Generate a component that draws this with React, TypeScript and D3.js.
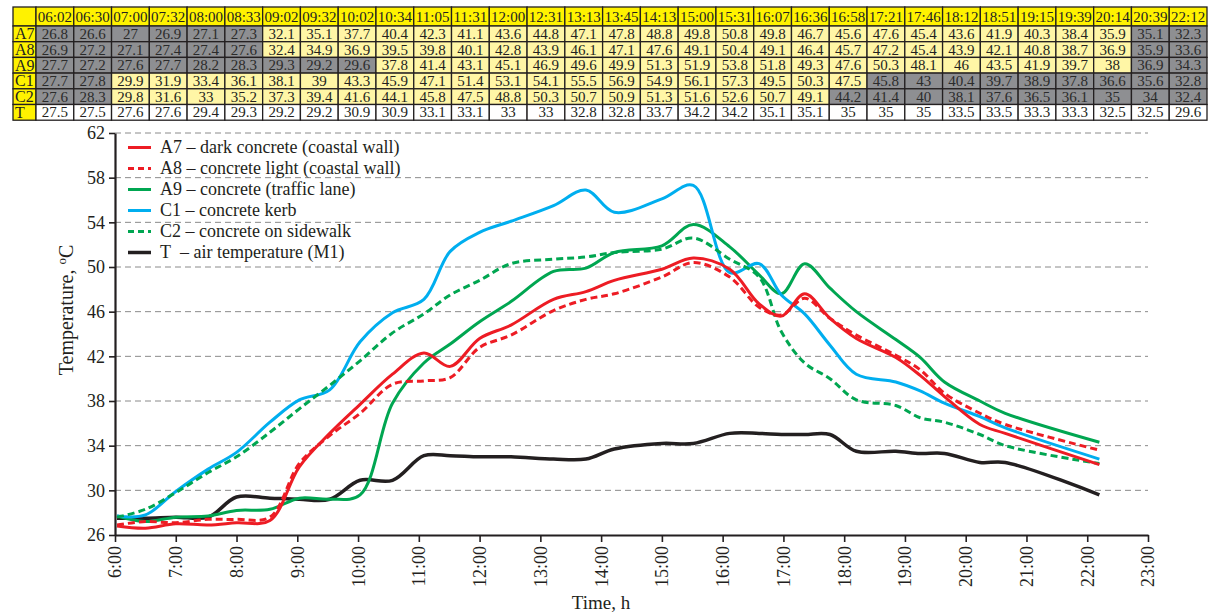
import React, { useEffect, useRef } from 'react';
import * as d3 from 'd3';

// measurement times (table header)
const times = ['06:02', '06:30', '07:00', '07:32', '08:00', '08:33', '09:02', '09:32', '10:02', '10:34', '11:05', '11:31', '12:00', '12:31', '13:13', '13:45', '14:13', '15:00', '15:31', '16:07', '16:36', '16:58', '17:21', '17:46', '18:12', '18:51', '19:15', '19:39', '20:14', '20:39', '22:12'];

const a7 = [26.8, 26.6, 27, 26.9, 27.1, 27.3, 32.1, 35.1, 37.7, 40.4, 42.3, 41.1, 43.6, 44.8, 47.1, 47.8, 48.8, 49.8, 50.8, 49.8, 46.7, 45.6, 47.6, 45.4, 43.6, 41.9, 40.3, 38.4, 35.9, 35.1, 32.3];
const a8 = [26.9, 27.2, 27.1, 27.4, 27.4, 27.6, 32.4, 34.9, 36.9, 39.5, 39.8, 40.1, 42.8, 43.9, 46.1, 47.1, 47.6, 49.1, 50.4, 49.1, 46.4, 45.7, 47.2, 45.4, 43.9, 42.1, 40.8, 38.7, 36.9, 35.9, 33.6];
const a9 = [27.7, 27.2, 27.6, 27.7, 28.2, 28.3, 29.3, 29.2, 29.6, 37.8, 41.4, 43.1, 45.1, 46.9, 49.6, 49.9, 51.3, 51.9, 53.8, 51.8, 49.3, 47.6, 50.3, 48.1, 46, 43.5, 41.9, 39.7, 38, 36.9, 34.3];
const c1 = [27.7, 27.8, 29.9, 31.9, 33.4, 36.1, 38.1, 39, 43.3, 45.9, 47.1, 51.4, 53.1, 54.1, 55.5, 56.9, 54.9, 56.1, 57.3, 49.5, 50.3, 47.5, 45.8, 43, 40.4, 39.7, 38.9, 37.8, 36.6, 35.6, 32.8];
const c2 = [27.6, 28.3, 29.8, 31.6, 33, 35.2, 37.3, 39.4, 41.6, 44.1, 45.8, 47.5, 48.8, 50.3, 50.7, 50.9, 51.3, 51.6, 52.6, 50.7, 49.1, 44.2, 41.4, 40, 38.1, 37.6, 36.5, 36.1, 35, 34, 32.4];
const tAir = [27.5, 27.5, 27.6, 27.6, 29.4, 29.3, 29.2, 29.2, 30.9, 30.9, 33.1, 33.1, 33, 33, 32.8, 32.8, 33.7, 34.2, 34.2, 35.1, 35.1, 35, 35, 35, 33.5, 33.5, 33.3, 33.3, 32.5, 32.5, 29.6];

// columns shaded grey in the table
const a7Grey = [0, 1, 2, 3, 4, 5, 29, 30];
const a8Grey = [0, 1, 2, 3, 4, 5, 29, 30];
const a9Grey = [0, 1, 2, 3, 4, 5, 6, 7, 8, 29, 30];
const c1Grey = [0, 1, 22, 23, 24, 25, 26, 27, 28, 29, 30];
const c2Grey = [0, 1, 21, 22, 23, 24, 25, 26, 27, 28, 29, 30];

const rowNames = ['A7', 'A8', 'A9', 'C1', 'C2', 'T'];
const legendLabels = [
  'A7 \u2013 dark concrete (coastal wall)',
  'A8 \u2013 concrete light (coastal wall)',
  'A9 \u2013 concrete (traffic lane)',
  'C1 \u2013 concrete kerb',
  'C2 \u2013 concrete on sidewalk',
  'T\u00a0 \u2013 air temperature (M1)',
];

const yTicks = [26, 30, 34, 38, 42, 46, 50, 54, 58, 62];
const xTicks = d3.range(6, 24);

const FONT = '"Liberation Serif", "DejaVu Serif", serif';

const App = () => {
  const svgRef = useRef<SVGSVGElement>(null);

  useEffect(() => {
    document.body.style.margin = '0';
    const svg = d3.select(svgRef.current);
    svg.selectAll('*').remove();

    const W = 1216;
    const H = 615;
    svg.attr('width', W).attr('height', H).style('font-family', FONT);

    // ---------- table ----------
    const tableLeft = 13;
    const labelW = 23;
    const tableRight = 1207;
    const headTop = 7;
    const headH = 19;
    const rowH = 15.7;

    const colX = d3.scaleBand().domain(times).range([tableLeft + labelW, tableRight]);
    const rowY = d3.scaleBand().domain(rowNames).range([headTop + headH, headTop + headH + rowH * rowNames.length]);

    const tableRows = [
      { name: 'A7', values: a7, grey: a7Grey },
      { name: 'A8', values: a8, grey: a8Grey },
      { name: 'A9', values: a9, grey: a9Grey },
      { name: 'C1', values: c1, grey: c1Grey },
      { name: 'C2', values: c2, grey: c2Grey },
      { name: 'T', values: tAir, grey: [] as number[] },
    ];

    const table = svg.append('g');
    const yellow = '#fff200';
    const paleYellow = '#fff6a6';
    const grey = '#8e8f92';
    const border = '#231f20';

    // header row
    table.append('rect')
      .attr('x', tableLeft).attr('y', headTop).attr('width', labelW).attr('height', headH)
      .attr('fill', yellow).attr('stroke', border).attr('stroke-width', 1.3);
    times.forEach(t => {
      table.append('rect')
        .attr('x', colX(t)!).attr('y', headTop).attr('width', colX.bandwidth()).attr('height', headH)
        .attr('fill', yellow).attr('stroke', border).attr('stroke-width', 1.3);
      table.append('text')
        .attr('x', colX(t)! + colX.bandwidth() / 2).attr('y', headTop + headH / 2 + 5)
        .attr('text-anchor', 'middle').attr('font-size', 15).attr('fill', '#231f20')
        .text(t);
    });

    tableRows.forEach(r => {
      const y = rowY(r.name)!;
      table.append('rect')
        .attr('x', tableLeft).attr('y', y).attr('width', labelW).attr('height', rowY.bandwidth())
        .attr('fill', yellow).attr('stroke', border).attr('stroke-width', 1.3);
      table.append('text')
        .attr('x', tableLeft + 2).attr('y', y + rowY.bandwidth() / 2 + 5.5)
        .attr('font-size', 16).attr('fill', '#231f20')
        .text(r.name);
      r.values.forEach((v, i) => {
        const isGrey = r.grey.includes(i);
        const fill = r.name === 'T' ? '#ffffff' : isGrey ? grey : paleYellow;
        table.append('rect')
          .attr('x', colX(times[i])!).attr('y', y).attr('width', colX.bandwidth()).attr('height', rowY.bandwidth())
          .attr('fill', fill).attr('stroke', border).attr('stroke-width', 1.3);
        table.append('text')
          .attr('x', colX(times[i])! + colX.bandwidth() / 2).attr('y', y + rowY.bandwidth() / 2 + 5)
          .attr('text-anchor', 'middle').attr('font-size', 15)
          .attr('fill', isGrey ? '#2b2b2b' : '#231f20')
          .text(String(v));
      });
    });

    // ---------- chart ----------
    const left = 115;
    const right = 1148;
    const top = 133;
    const bottom = 535;

    const x = d3.scaleLinear().domain([6, 23]).range([left, right]);
    const y = d3.scaleLinear().domain([26, 62]).range([bottom, top]);
    const hours = times.map(t => {
      const [h, m] = t.split(':').map(Number);
      return h + m / 60;
    });

    // grid
    svg.append('g')
      .selectAll('line')
      .data(yTicks.filter(v => v > 26))
      .join('line')
      .attr('x1', left).attr('x2', right)
      .attr('y1', d => y(d)).attr('y2', d => y(d))
      .attr('stroke', '#8a8a8a').attr('stroke-width', 1).attr('stroke-dasharray', '6,4');

    const series = [
      { values: a7, color: '#ed1c24', dash: null, width: 3 },
      { values: a8, color: '#ed1c24', dash: '7,4', width: 3 },
      { values: a9, color: '#00a651', dash: null, width: 3 },
      { values: c1, color: '#00aeef', dash: null, width: 3 },
      { values: c2, color: '#00a651', dash: '7,4', width: 3 },
      { values: tAir, color: '#231f20', dash: null, width: 3.5 },
    ];

    const line = d3.line<number>()
      .x((_, i) => x(hours[i]))
      .y(d => y(d))
      .curve(d3.curveCatmullRom.alpha(0.5));

    const drawOrder = [5, 2, 3, 4, 1, 0];
    drawOrder.forEach(k => {
      const s = series[k];
      svg.append('path')
        .datum(s.values)
        .attr('d', line)
        .attr('fill', 'none')
        .attr('stroke', s.color)
        .attr('stroke-width', s.width)
        .attr('stroke-dasharray', s.dash)
        .attr('stroke-linejoin', 'round');
    });

    // axes
    const yAxis = svg.append('g').attr('transform', `translate(${left},0)`)
      .call(d3.axisLeft(y).tickValues(yTicks).tickSize(6).tickSizeOuter(0).tickPadding(4));
    const xAxis = svg.append('g').attr('transform', `translate(0,${bottom})`)
      .call(d3.axisBottom(x).tickValues(xTicks).tickSize(7).tickSizeOuter(0).tickFormat(d => `${d}:00`));

    [yAxis, xAxis].forEach(a => {
      a.select('.domain').attr('stroke', '#231f20').attr('stroke-width', 2.2);
      a.selectAll('.tick line').attr('stroke', '#231f20').attr('stroke-width', 1.6);
      a.selectAll('text').attr('font-family', FONT).attr('font-size', 18).attr('fill', '#231f20');
    });
    xAxis.selectAll('text')
      .attr('transform', 'rotate(-90)')
      .attr('text-anchor', 'end')
      .attr('x', -11)
      .attr('y', 0)
      .attr('dy', '0.33em');

    // axis titles
    svg.append('text')
      .attr('x', 601).attr('y', 609)
      .attr('text-anchor', 'middle').attr('font-size', 19).attr('fill', '#231f20')
      .text('Time, h');

    const yt = svg.append('text')
      .attr('transform', `translate(73,${310}) rotate(-90)`)
      .attr('text-anchor', 'middle').attr('font-size', 20).attr('fill', '#231f20');
    yt.append('tspan').text('Temperature, ');
    yt.append('tspan').attr('font-size', 13).attr('dy', -7).text('o');
    yt.append('tspan').attr('dy', 7).text('C');

    // legend
    const legend = svg.append('g');
    const legY = d3.scaleLinear().domain([0, 5]).range([147.5, 252.5]);
    series.forEach((s, i) => {
      legend.append('line')
        .attr('x1', 128).attr('x2', 151)
        .attr('y1', legY(i)).attr('y2', legY(i))
        .attr('stroke', s.color).attr('stroke-width', s.width)
        .attr('stroke-dasharray', s.dash ? '6,4' : null);
      legend.append('text')
        .attr('x', 160).attr('y', legY(i) + 5.5)
        .attr('font-size', 18).attr('fill', '#231f20')
        .text(legendLabels[i]);
    });
  }, []);

  return <svg ref={svgRef} style={{ display: 'block' }}></svg>;
};

export default App;
